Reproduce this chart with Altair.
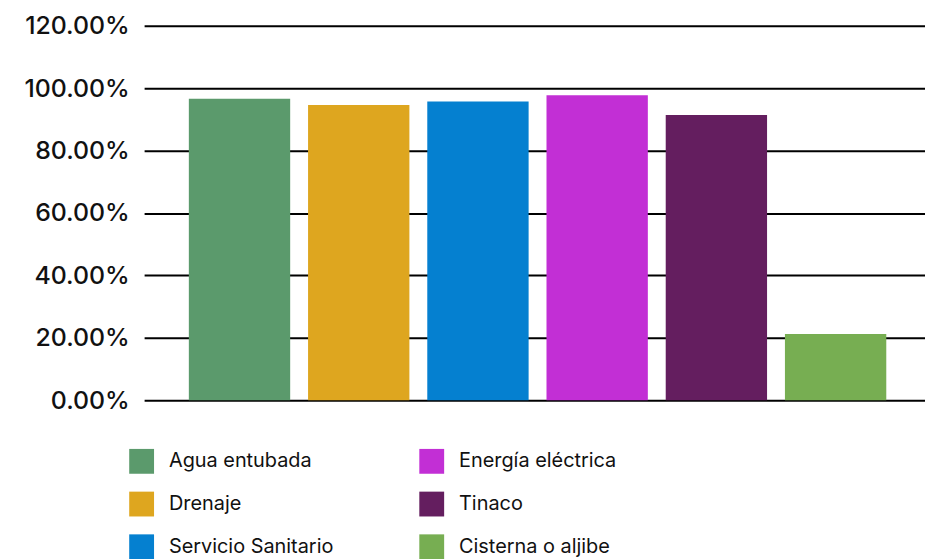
import altair as alt
import pandas as pd

categories = ["Agua entubada", "Drenaje", "Servicio Sanitario", "Energía eléctrica", "Tinaco", "Cisterna o aljibe"]
values = [0.966, 0.946, 0.957, 0.977, 0.914, 0.212]
colors = ["#5b9a6c", "#dea61f", "#0580d0", "#c22fd5", "#641e5f", "#77ae52"]
y_ticks = [0, 0.2, 0.4, 0.6, 0.8, 1.0, 1.2]

df = pd.DataFrame({"cat": categories, "val": values})

chart = alt.Chart(df).mark_bar().encode(
    x=alt.X("cat:N", sort=categories, axis=None,
            scale=alt.Scale(paddingInner=0.15, paddingOuter=0.35, align=0.536)),
    y=alt.Y("val:Q", scale=alt.Scale(domain=[0, 1.2]),
            axis=alt.Axis(values=y_ticks, format=".2%", title=None, domain=False,
                          ticks=False, labelPadding=15, labelFontSize=25,
                          labelFont="Inter", labelFontWeight=500, labelColor="#111111",
                          gridColor="#000000", gridWidth=2, gridOpacity=1)),
    color=alt.Color("cat:N",
                    scale=alt.Scale(domain=categories, range=colors),
                    legend=alt.Legend(title=None, orient="none", legendX=-15, legendY=426,
                                      columns=2, columnPadding=86, rowPadding=18,
                                      symbolType="square", symbolSize=625, symbolStrokeWidth=0,
                                      symbolOpacity=1, labelFontSize=20, labelFont="Inter",
                                      labelColor="#111111", labelOffset=15, labelLimit=400)),
).properties(
    width=786, height=377,
    autosize=alt.AutoSizeParams(type="none"),
    padding={"left": 137, "top": 16, "right": 0, "bottom": 158},
).configure_view(stroke=None)

chart.save("out.html", embed_options={"renderer": "svg", "actions": False})
